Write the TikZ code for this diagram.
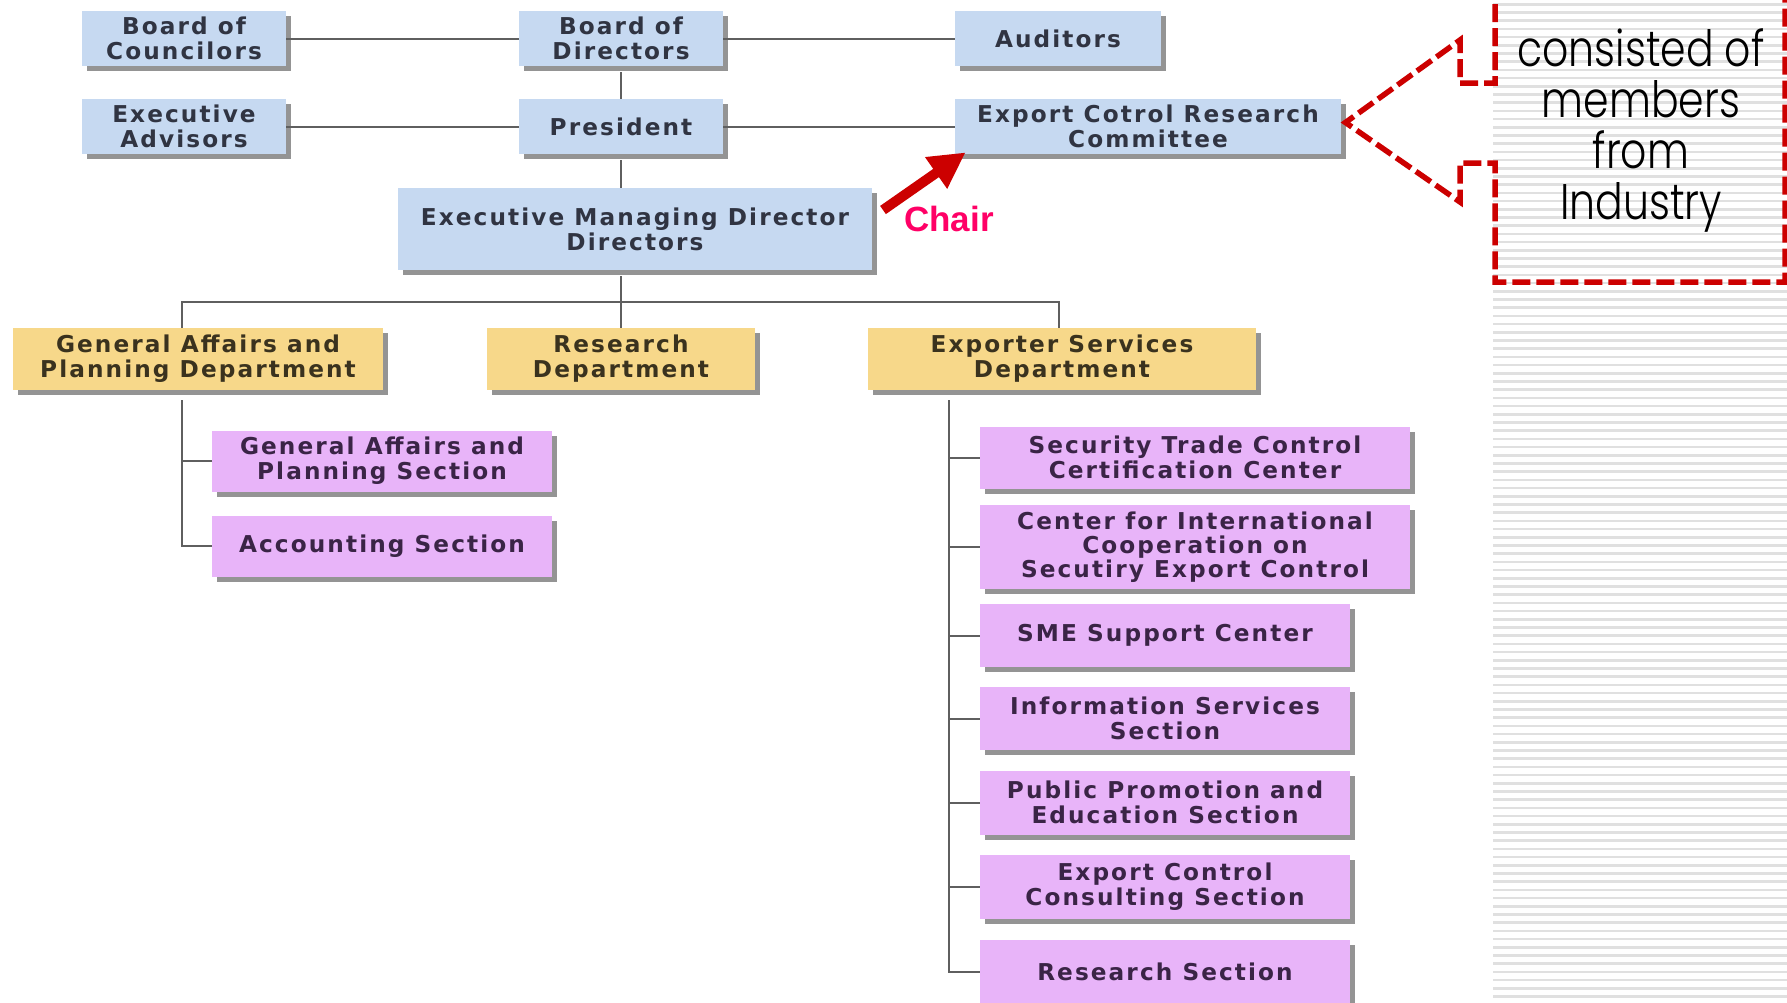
\documentclass[tikz,border=0pt]{standalone}
\usepackage{fontspec}
\usetikzlibrary{shadows,arrows.meta,calc}
\setmainfont{DejaVu Sans}
\newfontfamily\boxfont{DejaVu Sans}[LetterSpace=9]
\newfontfamily\chairfont{Liberation Sans}
\newfontfamily\callfont{Poppins}[UprightFont=* Light, FakeStretch=0.82]
\definecolor{bblue}{RGB}{198,217,241}
\definecolor{byel}{RGB}{247,216,138}
\definecolor{bpink}{RGB}{232,180,249}
\definecolor{tblue}{RGB}{48,52,66}
\definecolor{tyel}{RGB}{58,50,30}
\definecolor{tpink}{RGB}{58,36,70}
\definecolor{conncol}{RGB}{95,95,95}
\definecolor{dred}{RGB}{204,0,0}
\definecolor{chairpink}{RGB}{255,0,102}
\definecolor{stripecol}{RGB}{224,224,224}
\tikzset{
  orgbox/.style={draw=none, inner sep=0pt, align=center,
    font=\boxfont\bfseries\fontsize{11.6}{12.5}\selectfont,
    drop shadow={shadow xshift=2.5pt, shadow yshift=-2.5pt, fill=black, opacity=0.42}},
  bluebox/.style={orgbox, fill=bblue, text=tblue},
  yelbox/.style={orgbox, fill=byel, text=tyel},
  pinkbox/.style={orgbox, fill=bpink, text=tpink},
  wh/.style 2 args={minimum width=#1*0.5pt, minimum height=#2*0.5pt},
  link/.style={draw=conncol, line width=1pt},
  calloutline/.style={draw=dred, line width=2.75pt, dash pattern=on 9pt off 3pt, miter limit=10},
  chairarrow/.style={draw=dred, line width=5pt, -{Triangle[length=18pt,width=18pt]}}
}
\begin{document}
\begin{tikzpicture}[x=0.5pt,y=-0.5pt]
\clip (0,0) rectangle (1787,1002);
\fill[white] (0,0) rectangle (1787,1002);
% striped panel
\foreach \i in {0,...,122} {
  \fill[stripecol] (1493,{3+\i*8.2}) rectangle (1787,{5.5+\i*8.2});
}
% top level
\node[bluebox, wh={204}{55}] (boc) at (184,38.5) {Board of\\Councilors};
\node[bluebox, wh={204}{55}] (bod) at (621,38.5) {Board of\\Directors};
\node[bluebox, wh={206}{55}] (aud) at (1058,38.5) {Auditors};
\node[bluebox, wh={204}{55}] (exa) at (184,126.5) {Executive\\Advisors};
\node[bluebox, wh={204}{55}] (pre) at (621,126.5) {President};
\node[bluebox, wh={386}{55}] (ecr) at (1148,126.5) {Export Cotrol Research\\Committee};
\node[bluebox, wh={474}{82}] (emd) at (635,229) {Executive Managing Director\\Directors};
% departments
\node[yelbox, wh={370}{62}] (gad) at (198,359) {General Affairs and\\Planning Department};
\node[yelbox, wh={268}{62}] (rd) at (621,359) {Research\\Department};
\node[yelbox, wh={388}{62}] (esd) at (1062,359) {Exporter Services\\Department};
% sections
\node[pinkbox, wh={340}{61}] (gaps) at (382,461) {General Affairs and\\Planning Section};
\node[pinkbox, wh={340}{61}] (acc) at (382,546) {Accounting Section};
\node[pinkbox, wh={430}{62}] (stc) at (1195,457.5) {Security Trade Control\\Certification Center};
\node[pinkbox, wh={430}{84}, font=\boxfont\bfseries\fontsize{11.6}{12}\selectfont] (cic) at (1195,547) {Center for International\\Cooperation on\\Secutiry Export Control};
\node[pinkbox, wh={370}{63}] (sme) at (1165,635.5) {SME Support Center};
\node[pinkbox, wh={370}{63}] (iss) at (1165,718.5) {Information Services\\Section};
\node[pinkbox, wh={370}{64}] (ppe) at (1165,802.5) {Public Promotion and\\Education Section};
\node[pinkbox, wh={370}{64}] (ecc) at (1165,887) {Export Control\\Consulting Section};
\node[pinkbox, wh={370}{64}] (rs) at (1165,972) {Research Section};
% connectors
\draw[link] (boc.east) -- (bod.west);
\draw[link] (bod.east) -- (aud.west);
\draw[link] (exa.east) -- (pre.west);
\draw[link] (pre.east) -- (ecr.west);
\draw[link] ($(bod.south)+(0,6)$) -- (pre.north);
\draw[link] ($(pre.south)+(0,6)$) -- (pre.south |- emd.north);
\coordinate (busL) at (182,302);
\coordinate (busR) at (1059,302);
\draw[link] ($(emd.south -| rd.north)+(0,6)$) -- (rd.north);
\draw[link] (gad.north -| busL) -- (busL) -- (busR) -- (esd.north -| busR);
\coordinate (gtop) at (182,400);
\draw[link] (gtop) |- (acc.west);
\draw[link] (gaps.west -| gtop) -- (gaps.west);
\coordinate (etop) at (949,400);
\draw[link] (etop) |- (rs.west);
\foreach \n in {stc,cic,sme,iss,ppe,ecc} {
  \draw[link] (\n.west -| etop) -- (\n.west);
}
% chair arrow
\coordinate (chairtail) at (883,210);
\draw[chairarrow] (chairtail) -- ($(ecr.south west)+(11,-2)$);
\node[font=\chairfont\bfseries\fontsize{17.5}{20}\selectfont, text=chairpink, anchor=base, inner sep=0pt] (chair) at (949,231) {Chair};
% callout
\coordinate (tip) at ($(ecr.east)+(4,-4)$);
\draw[calloutline] (1495,-20) -- (1495,83) -- (1460,83) -- (1460,40) -- (tip) -- (1460,202) -- (1460,163) -- (1495,163) -- (1495,282) -- (1785,282) -- (1785,-20);
\node[font=\callfont\fontsize{25}{25.5}\selectfont, align=center, inner sep=0pt] (note) at (1641,130) {consisted of\\members\\from\\Industry};
\end{tikzpicture}
\end{document}
